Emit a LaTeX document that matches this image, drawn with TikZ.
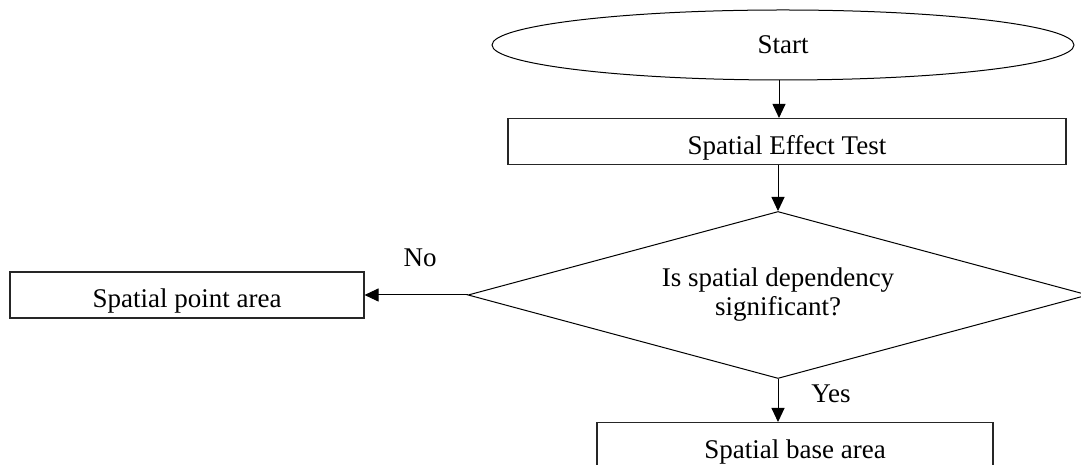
\documentclass[tikz,border=0pt]{standalone}
\usepackage{fontspec}
\setmainfont{Liberation Serif}
\usetikzlibrary{arrows.meta,shapes.geometric}

\begin{document}
\begin{tikzpicture}[x=1pt,y=1pt,
  font=\fontsize{27}{29}\selectfont,
  stepbox/.style={draw=black!85, line width=1.1pt, rectangle, inner sep=0pt, text height=36pt, text depth=10pt},
  flow/.style={black, line width=1pt, -{Triangle[length=14pt, width=13pt]}}]
\useasboundingbox (0,0) rectangle (1081,465);
\node[draw=black, line width=1pt, ellipse, inner sep=0pt, minimum width=582pt, minimum height=70pt] (start) at (783,420) {Start};
\node[stepbox, minimum width=558pt] (test) at (787,323.5) {Spatial Effect Test};
\node[draw=black, line width=1pt, diamond, aspect=3.7, inner sep=0pt, minimum width=620pt, minimum height=167pt, align=center] (dec) at (778,170) {Is spatial dependency\\significant?};
\node[stepbox, minimum width=354pt] (point) at (187,170) {Spatial point area};
\node[stepbox, minimum width=396pt, anchor=north] (base) at (795,43) {Spatial base area};
\coordinate (axis) at (779,0);
\draw[flow] (start.south -| axis) -- (test.north -| axis);
\draw[flow] (test.south -| dec.north) -- (dec.north);
\draw[flow] (dec.west) -- (point.east);
\draw[flow] (dec.south) -- (base.north -| dec.south);
\node (no) at (420,207) {No};
\node (yes) at (831,71) {Yes};
\end{tikzpicture}
\end{document}
